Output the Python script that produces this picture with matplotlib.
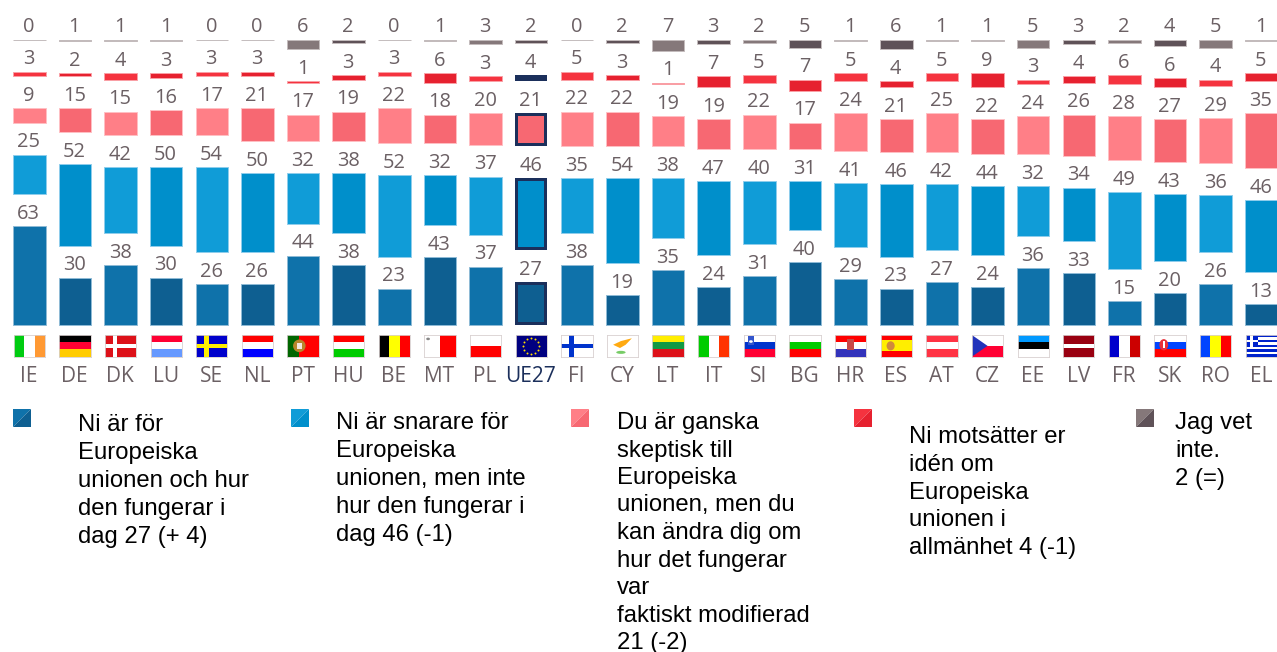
from matplotlib import pyplot as plt
from matplotlib.patches import Rectangle, Polygon, Circle, Ellipse
import numpy as np

countries = ['IE', 'DE', 'DK', 'LU', 'SE', 'NL', 'PT', 'HU', 'BE', 'MT', 'PL', 'UE27', 'FI', 'CY',
             'LT', 'IT', 'SI', 'BG', 'HR', 'ES', 'AT', 'CZ', 'EE', 'LV', 'FR', 'SK', 'RO', 'EL']
for_eu = [63, 30, 38, 30, 26, 26, 44, 38, 23, 43, 37, 27, 38, 19, 35, 24, 31, 40, 29, 23, 27, 24, 36, 33, 15, 20, 26, 13]
rather_for = [25, 52, 42, 50, 54, 50, 32, 38, 52, 32, 37, 46, 35, 54, 38, 47, 40, 31, 41, 46, 42, 44, 32, 34, 49, 43, 36, 46]
sceptic = [9, 15, 15, 16, 17, 21, 17, 19, 22, 18, 20, 21, 22, 22, 19, 19, 22, 17, 24, 21, 25, 22, 24, 26, 28, 27, 29, 35]
against = [3, 2, 4, 3, 3, 3, 1, 3, 3, 6, 3, 4, 5, 3, 1, 7, 5, 7, 5, 4, 5, 9, 3, 4, 6, 6, 4, 5]
dont_know = [0, 1, 1, 1, 0, 0, 6, 2, 0, 1, 3, 2, 0, 2, 7, 3, 2, 5, 1, 6, 1, 1, 5, 3, 2, 4, 5, 1]
series = [for_eu, rather_for, sceptic, against, dont_know]

# light / dark colour per series, they alternate from country to country
light = ['#0F72AA', '#109CD7', '#FF7F87', '#F5333F', '#85787A']
dark = ['#0E5F91', '#008FCB', '#F76872', '#E6212F', '#5F5258']
edge_light = ['#8FBBD6', '#8FCDEC', '#FFC0C4', '#FAA0A6', '#C4BCBD']
navy = '#1B2F5B'
grey = '#6B6064'

legend_lines = [
    ['Ni är för', 'Europeiska', 'unionen och hur', 'den fungerar i', 'dag 27 (+ 4)'],
    ['Ni är snarare för', 'Europeiska', 'unionen, men inte', 'hur den fungerar i', 'dag 46 (-1)'],
    ['Du är ganska', 'skeptisk till', 'Europeiska', 'unionen, men du', 'kan ändra dig om', 'hur det fungerar',
     'var', 'faktiskt modifierad', '21 (-2)'],
    ['Ni motsätter er', 'idén om', 'Europeiska', 'unionen i', 'allmänhet 4 (-1)'],
    ['Jag vet', 'inte.', '2 (=)'],
]
legend_x = [13, 291, 571, 854, 1136]
legend_text_x = [78, 336, 617, 909, 1175]
legend_text_y = [425, 423, 423, 437, 423]
legend_step = [28, 28, 27.5, 27.8, 28]

# pixel layout of the figure
W, H = 1277, 652
px_x = 45.63      # px per country
px_y = 1.57       # px per percentage point
x0 = 29.3         # centre of first bar
y0 = 324.7        # baseline
gap = 32 / px_y
bw = 32.5 / px_x
label_font = ['Open Sans', 'DejaVu Sans']
legend_font = ['Liberation Sans', 'DejaVu Sans']


def bands(ax, colors, vertical=False):
    n = len(colors)
    for i, c in enumerate(colors):
        if vertical:
            ax.add_patch(Rectangle((i / n, 0), 1 / n, 1, color=c, lw=0))
        else:
            ax.add_patch(Rectangle((0, 1 - (i + 1) / n), 1, 1 / n, color=c, lw=0))


def cross(ax, bg, fg, cx=0.36, t=0.2):
    ax.add_patch(Rectangle((0, 0), 1, 1, color=bg, lw=0))
    ax.add_patch(Rectangle((cx - t / 2, 0), t * 0.68, 1, color=fg, lw=0))
    ax.add_patch(Rectangle((0, 0.5 - t / 2), 1, t, color=fg, lw=0))


def draw_flag(ax, c):
    if c == 'IE':
        bands(ax, ['#00CC11', '#FFFFFF', '#FF9933'], True)
    elif c == 'DE':
        bands(ax, ['#000000', '#FF0033', '#FFCC00'])
    elif c == 'DK':
        cross(ax, '#DD1119', '#FFFFFF')
    elif c == 'LU':
        bands(ax, ['#FF0033', '#FFFFFF', '#6699FF'])
    elif c == 'SE':
        cross(ax, '#0000CC', '#FFEE00')
    elif c == 'NL':
        bands(ax, ['#FF0000', '#FFFFFF', '#0000FF'])
    elif c == 'PT':
        ax.add_patch(Rectangle((0, 0), 1, 1, color='#FF0000', lw=0))
        ax.add_patch(Rectangle((0, 0), 0.38, 1, color='#006600', lw=0))
        ax.add_patch(Ellipse((0.38, 0.5), 0.4, 0.58, color='#B8862B', lw=0))
        ax.add_patch(Rectangle((0.3, 0.36), 0.16, 0.28, color='#F4E8E0', lw=0))
    elif c == 'HU':
        bands(ax, ['#FF0000', '#FFFFFF', '#00CC00'])
    elif c == 'BE':
        bands(ax, ['#000000', '#FFFF00', '#FF0000'], True)
    elif c == 'MT':
        bands(ax, ['#FFFFFF', '#FF0000'], True)
        ax.add_patch(Circle((0.12, 0.82), 0.06, color='#888888', lw=0))
    elif c == 'PL':
        bands(ax, ['#FFFFFF', '#FF0000'])
    elif c == 'UE27':
        ax.add_patch(Rectangle((0, 0), 1, 1, color='#000080', lw=0))
        a = np.arange(12) * np.pi / 6
        ax.scatter(0.5 + 0.26 * np.cos(a), 0.5 + 0.36 * np.sin(a), s=2, color='#FFDD00', lw=0)
    elif c == 'FI':
        cross(ax, '#FFFFFF', '#0033CC')
    elif c == 'CY':
        ax.add_patch(Rectangle((0, 0), 1, 1, color='#FFFFFF', lw=0))
        ax.add_patch(Polygon([(0.2, 0.55), (0.45, 0.72), (0.8, 0.85), (0.6, 0.55), (0.42, 0.4)],
                             color='#FFAA11', lw=0))
        ax.add_patch(Ellipse((0.45, 0.2), 0.3, 0.14, color='#77CC66', lw=0))
    elif c == 'LT':
        bands(ax, ['#FFEE00', '#119944', '#DD1119'])
    elif c == 'IT':
        bands(ax, ['#00CC00', '#FFFFFF', '#FF3300'], True)
    elif c == 'SI':
        bands(ax, ['#FFFFFF', '#0033CC', '#FF0033'])
        ax.add_patch(Rectangle((0.13, 0.52), 0.2, 0.42, color='#3355CC', lw=0))
        ax.add_patch(Circle((0.23, 0.7), 0.06, color='#FFFFFF', lw=0))
    elif c == 'BG':
        bands(ax, ['#FFFFFF', '#00CC00', '#FF0000'])
    elif c == 'HR':
        bands(ax, ['#FF0000', '#FFFFFF', '#3333BB'])
        ax.add_patch(Rectangle((0.38, 0.3), 0.24, 0.5, color='#C84848', lw=0))
    elif c == 'ES':
        ax.add_patch(Rectangle((0, 0), 1, 1, color='#FF0000', lw=0))
        ax.add_patch(Rectangle((0, 0.25), 1, 0.5, color='#FFEE00', lw=0))
        ax.add_patch(Ellipse((0.32, 0.5), 0.26, 0.42, color='#D08A3C', lw=0))
    elif c == 'AT':
        bands(ax, ['#FF3344', '#FFFFFF', '#FF3344'])
    elif c == 'CZ':
        bands(ax, ['#FFFFFF', '#FF0033'])
        ax.add_patch(Polygon([(0, 0), (0.5, 0.5), (0, 1)], color='#2233BB', lw=0))
    elif c == 'EE':
        bands(ax, ['#0099FF', '#000000', '#FFFFFF'])
    elif c == 'LV':
        ax.add_patch(Rectangle((0, 0), 1, 1, color='#990011', lw=0))
        ax.add_patch(Rectangle((0, 0.4), 1, 0.2, color='#FFFFFF', lw=0))
    elif c == 'FR':
        bands(ax, ['#0000CC', '#FFFFFF', '#CC0000'], True)
    elif c == 'SK':
        bands(ax, ['#FFFFFF', '#0044FF', '#FF0000'])
        ax.add_patch(Ellipse((0.3, 0.55), 0.28, 0.52, color='#E8303A', lw=0))
        ax.add_patch(Rectangle((0.28, 0.42), 0.05, 0.32, color='#FFFFFF', lw=0))
    elif c == 'RO':
        bands(ax, ['#0044FF', '#FFFF00', '#FF0000'], True)
    elif c == 'EL':
        n = 9
        for k in range(n):
            col = '#0022CC' if k % 2 == 0 else '#FFFFFF'
            ax.add_patch(Rectangle((0, 1 - (k + 1) / n), 1, 1 / n, color=col, lw=0))
        ax.add_patch(Rectangle((0, 4 / 9), 0.38, 5 / 9, color='#0022CC', lw=0))
        ax.add_patch(Rectangle((0.15, 4 / 9), 0.08, 5 / 9, color='#FFFFFF', lw=0))
        ax.add_patch(Rectangle((0, 6 / 9), 0.38, 1 / 9, color='#FFFFFF', lw=0))


fig = plt.figure(figsize=(W / 100, H / 100), dpi=100)
ax = fig.add_axes([0, 0, 1, 1])
ax.set_xlim(-x0 / px_x, (W - x0) / px_x)
ax.set_ylim(-(H - y0) / px_y, y0 / px_y)
ax.axis('off')

eu = countries.index('UE27')

# stacked bars, with a constant gap between the segments
for i, c in enumerate(countries):
    bottom = 0
    for s, vals in enumerate(series):
        v = vals[i]
        col = light[s] if i % 2 == 0 else dark[s]
        if i == eu and s < 4:
            ax.bar(i, v, bw, bottom=bottom, color=navy, lw=0, zorder=2)
            bx = 3 / px_x
            by = 3 / px_y
            if v * px_y > 8:
                ax.bar(i, v - 2 * by, bw - 2 * bx, bottom=bottom + by, color=col, lw=0, zorder=3)
        else:
            ax.bar(i, v, bw, bottom=bottom, color=col, edgecolor=edge_light[s], lw=0.7, zorder=2)
        ax.annotate(str(v), xy=(i, bottom + v), xytext=(-0.4, 5.2), textcoords='offset points',
                    ha='center', va='baseline', fontsize=14.4, color=grey, family=label_font)
        bottom += v + gap

    ax.text(i - 0.01, -(381.7 - y0) / px_y, c, ha='center', va='baseline', fontsize=15,
            color=navy if i == eu else grey, family=label_font)

    # flag below the bars
    fw = 31.3 / px_x
    fh = 21.7 / px_y
    fax = ax.inset_axes([i - fw / 2, -(356.7 - y0) / px_y, fw, fh], transform=ax.transData)
    fax.set_xlim(0, 1)
    fax.set_ylim(0, 1)
    fax.set_xticks([])
    fax.set_yticks([])
    for sp in fax.spines.values():
        sp.set_color('#D8D0D0')
        sp.set_linewidth(0.6)
    draw_flag(fax, c)

# legend in plain pixel coordinates
lax = fig.add_axes([0, 0, 1, 1], facecolor='none')
lax.set_xlim(0, W)
lax.set_ylim(H, 0)
lax.axis('off')
for k in range(5):
    x, y, d = legend_x[k], 409, 18
    lax.add_patch(Polygon([(x, y), (x + d, y), (x, y + d)], color=light[k], lw=0))
    lax.add_patch(Polygon([(x + d, y), (x + d, y + d), (x, y + d)], color=dark[k], lw=0))
    for j, line in enumerate(legend_lines[k]):
        lax.text(legend_text_x[k], legend_text_y[k] + j * legend_step[k], line, ha='left', va='center',
                 fontsize=17.2, color='black', family=legend_font)

fig.savefig('out.png', dpi=100)
